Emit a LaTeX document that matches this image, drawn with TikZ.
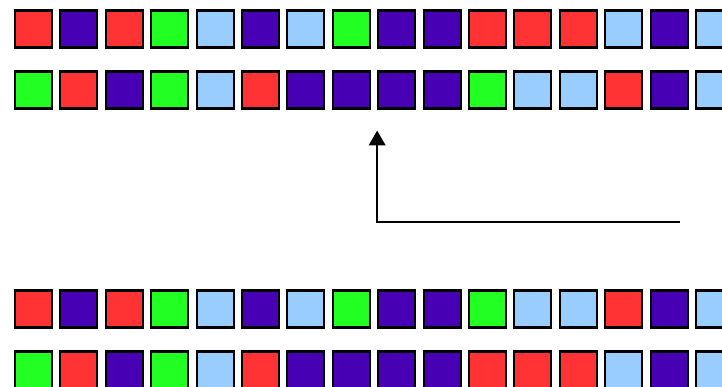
\documentclass[tikz,border=0pt]{standalone}
\usetikzlibrary{arrows.meta}
\definecolor{cred}{HTML}{FF3333}
\definecolor{cpurple}{HTML}{4700B3}
\definecolor{cgreen}{HTML}{22FF22}
\definecolor{cblue}{HTML}{99CCFF}

\begin{document}
\begin{tikzpicture}[
    x=0.02cm, y=-0.02cm,
    >={Triangle[length=8.5pt, width=9.5pt]},
    cell/.style={draw, line width=1.2pt, minimum size=0.74cm, inner sep=0pt},
    link/.style={->, line width=1.1pt}
  ]
  \useasboundingbox (0,0) rectangle (722,386);
  \clip (0,0) rectangle (722,386);

  % Top pair of rows
  \foreach \c [count=\i] in {cred,cpurple,cred,cgreen,cblue,cpurple,cblue,cgreen,
                             cpurple,cpurple,cred,cred,cred,cblue,cpurple,cblue} {
    \node[cell, fill=\c] (a\i) at ({33.5+45.4*(\i-1)}, 29) {};
  }
  \foreach \c [count=\i] in {cgreen,cred,cpurple,cgreen,cblue,cred,cpurple,cpurple,
                             cpurple,cpurple,cgreen,cblue,cblue,cred,cpurple,cblue} {
    \node[cell, fill=\c] (b\i) at ({33.5+45.4*(\i-1)}, 90) {};
  }

  % Bottom pair of rows
  \foreach \c [count=\i] in {cred,cpurple,cred,cgreen,cblue,cpurple,cblue,cgreen,
                             cpurple,cpurple,cgreen,cblue,cblue,cred,cpurple,cblue} {
    \node[cell, fill=\c] (c\i) at ({33.5+45.4*(\i-1)}, 309) {};
  }
  \foreach \c [count=\i] in {cgreen,cred,cpurple,cgreen,cblue,cred,cpurple,cpurple,
                             cpurple,cpurple,cred,cred,cred,cblue,cpurple,cblue} {
    \node[cell, fill=\c] (d\i) at ({33.5+45.4*(\i-1)}, 370) {};
  }

  % Arrow
  \coordinate (tail) at (680, 222);
  \draw[link, shorten >=0.42cm] (tail) -- (b9.south west |- tail) -- (b9.south west);
\end{tikzpicture}
\end{document}
